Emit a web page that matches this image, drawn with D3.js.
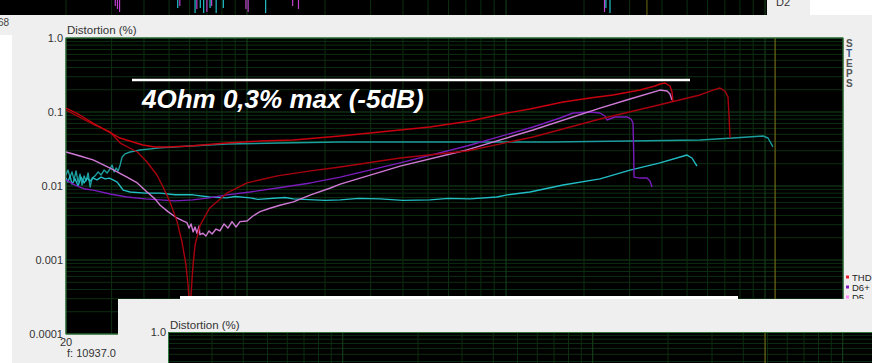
<!DOCTYPE html>
<html>
<head>
<meta charset="utf-8">
<script src="https://cdn.jsdelivr.net/npm/d3@7"></script>
<style>
  body { margin: 0; background: #efefef; }
  svg { display: block; font-family: Arial, "Liberation Sans", sans-serif; }
</style>
</head>
<body>
<div id="chart"></div>
<script>
// frequency range (Hz) and distortion range (%)
const freqDomain = [20, 20000];
const distDomain = [0.0001, 1];
const yTicks = [1, 0.1, 0.01, 0.001, 0.0001];
const yTickLabels = ['1.0', '0.1', '0.01', '0.001', '0.0001'];
const xTickLabel = '20';
const cursorHz = 10937;
const cursorLabel = 'f: 10937.0';
const annotation = '4Ohm 0,3% max (-5dB)';
const legendNames = ['THD', 'D6+', 'D5'];
const stepsLetters = ['S', 'T', 'E', 'P', 'S'];

// [Hz, %]
const seriesTHD = [[20,0.113],[22.6,0.0911],[25.4,0.071],[28.8,0.0554],[32.3,0.0445],[36.3,0.0393],
  [39.6,0.0358],[44.1,0.0337],[49.2,0.0337],[60.2,0.0347],[83.5,0.0381],[112,0.0406],[151,0.0418],
  [229,0.0474],[326,0.0537],[508,0.0627],[726,0.0756],[1009,0.0969],[1237,0.1098],[1660,0.1365],
  [2110,0.1546],[2589,0.170],[3290,0.198],[3758,0.2246],[3932,0.239],[4110,0.2464],[4296,0.2246],
  [4374,0.1863],[4413,0.1365]];
const seriesD2 = [[20,0.1064],[25.4,0.0688],[29.6,0.0537],[32.4,0.0381],[37.7,0.0288],[41.1,0.0211],
  [44.9,0.0141],[47.4,0.0097],[50.4,0.0061],[53.7,0.0033],[56.1,0.00175],[58.1,0.00086],[59.2,0.00046],
  [60.2,0.0002],[60.8,0.00034],[61.3,0.00054],[61.9,0.00086],[63.0,0.0016],[65.8,0.0029],[71.6,0.0050],
  [83.5,0.0080],[100,0.0110],[131,0.0137],[176,0.0160],[229,0.0181],[390,0.0239],[706,0.0297],
  [1271,0.0460],[2306,0.0804],[4184,0.1323],[5610,0.170],[6296,0.198],[6700,0.211],[7008,0.192],
  [7193,0.1595],[7260,0.0911],[7324,0.0445]];
const seriesD3 = [[20,0.0141],[20.36,0.0164],[20.73,0.0132],[21.1,0.0155],[21.48,0.0121],[21.87,0.016],
  [22.26,0.0113],[22.66,0.0145],[23.07,0.0103],[23.49,0.0137],[23.91,0.0117],[24.34,0.015],[24.78,0.0097],
  [25.23,0.0128],[25.91,0.0137],[26.61,0.0155],[27.33,0.0141],[28.06,0.0164],[28.82,0.015],[29.6,0.017],
  [30.13,0.0192],[30.67,0.0155],[31.23,0.0175],[31.79,0.016],[32.36,0.0192],[32.94,0.0247],[33.84,0.0272],
  [35.36,0.0288],[38.64,0.0307],[46.2,0.0327],[60.2,0.0347],[83.5,0.037],[134,0.0381],[229,0.0393],
  [608,0.0393],[1478,0.0393],[3011,0.0406],[5610,0.0418],[7520,0.0445],[9830,0.0474],[10270,0.0445],
  [10730,0.0337]];
const seriesD4 = [[20,0.0128],[20.36,0.0113],[20.73,0.0137],[21.1,0.0106],[21.67,0.0125],[22.26,0.01],
  [22.86,0.0132],[23.49,0.011],[24.12,0.0128],[24.78,0.0117],[25.45,0.0128],[26.35,0.0121],[27.33,0.0132],
  [28.33,0.0125],[29.34,0.0128],[30.4,0.0121],[31.51,0.0113],[32.36,0.01],[33.24,0.0088],[35.36,0.0083],
  [40.4,0.008],[46.2,0.008],[52.7,0.0076],[61.7,0.0076],[71.6,0.0071],[83.5,0.0069],[90,0.0072],
  [102.7,0.0069],[110,0.0066],[140,0.007],[151,0.0067],[200,0.0064],[229,0.0065],[270,0.0068],
  [326,0.0067],[400,0.0064],[508,0.0065],[600,0.0068],[726,0.0067],[922,0.0071],[1009,0.0076],
  [1237,0.0083],[1660,0.0103],[2306,0.0125],[3011,0.0164],[3932,0.0205],[4997,0.0262],[5224,0.0239],
  [5460,0.0186]];
const seriesD5 = [[20,0.0288],[22.66,0.0254],[25.45,0.0225],[29.6,0.0175],[34.4,0.0132],[37.7,0.011],
  [41.1,0.0083],[44.1,0.0067],[46.2,0.0055],[49.5,0.0045],[53.6,0.0037],[56.6,0.00337],[58.6,0.0032],
  [59.7,0.0027],[60.8,0.00307],[61.9,0.0024],[63.0,0.00279],[64.1,0.0023],[65.3,0.00288],[65.8,0.0022],
  [67.6,0.0023],[69.4,0.00211],[71.3,0.00247],[73.3,0.00225],[75.9,0.00262],[78.6,0.00247],[81.5,0.00307],
  [84.4,0.0027],[87.5,0.0033],[90.7,0.00279],[93.9,0.0033],[100,0.00337],[105.4,0.00393],[112.2,0.0045],
  [122.7,0.005],[134,0.0055],[151,0.0061],[176,0.0076],[210,0.0094],[229,0.0106],[390,0.0186],
  [706,0.0307],[1271,0.0571],[2306,0.113],[3011,0.15],[3932,0.198],[4184,0.192],[4296,0.175],[4374,0.145]];
const seriesD6 = [[20,0.0121],[21.67,0.0103],[23.68,0.0091],[25.45,0.0088],[29.6,0.0078],[34.4,0.0071],
  [40.4,0.0067],[46.2,0.0065],[52.7,0.0063],[61.7,0.0065],[71.6,0.0069],[83.5,0.0076],[102.7,0.0083],
  [131,0.0094],[176,0.011],[229,0.0132],[390,0.0205],[706,0.0347],[1271,0.0627],[1616,0.083],
  [1814,0.0969],[2110,0.1],[2306,0.0969],[2410,0.0883],[2454,0.078],[2635,0.0856],[2932,0.0856],
  [3038,0.0804],[3092,0.071],[3110,0.0307],[3120,0.0132],[3290,0.0128],[3502,0.0128],[3597,0.0117],
  [3662,0.0097]];

// fragments of the neighbouring screenshots
const topCursorHz = 3500;
const topSpikesMagenta = [31, 31.6, 32.2, 55, 64, 70, 73, 99, 101, 150, 158, 2400];
const topSpikesCyan = [54, 63, 66, 68, 72, 76, 81, 118, 2430, 2520];
const lowerCursorHz = 4890;

const W = 872, H = 363;
const svg = d3.select('#chart').append('svg').attr('width', W).attr('height', H);

const x = d3.scaleLog().domain(freqDomain).range([66, 843]);
const y = d3.scaleLog().domain(distDomain).range([334, 38]);

const isDecade = v => Math.abs(Math.log10(v) - Math.round(Math.log10(v))) < 1e-6;
const minorGrid = '#0c2e10';
const majorGrid = '#17461c';

// ---- top strip (bottom of another plot)
svg.append('rect').attr('x', 0).attr('y', 0).attr('width', 767).attr('height', 15).attr('fill', '#000');
svg.append('g').selectAll('line').data(x.ticks().filter(v => x(v) < 767)).join('line')
  .attr('x1', d => x(d)).attr('x2', d => x(d)).attr('y1', 0).attr('y2', 15)
  .attr('stroke', d => isDecade(d) ? majorGrid : minorGrid);
svg.append('line').attr('x1', x(topCursorHz)).attr('x2', x(topCursorHz)).attr('y1', 0).attr('y2', 15)
  .attr('stroke', '#6f6a16');
svg.append('g').selectAll('line').data(topSpikesMagenta).join('line')
  .attr('x1', d => x(d)).attr('x2', d => x(d)).attr('y1', 0).attr('y2', (d, i) => 6 + (i % 3) * 3)
  .attr('stroke', '#c040d0').attr('stroke-width', 1.2);
svg.append('g').selectAll('line').data(topSpikesCyan).join('line')
  .attr('x1', d => x(d)).attr('x2', d => x(d)).attr('y1', 0).attr('y2', (d, i) => 8 + (i % 2) * 5)
  .attr('stroke', '#20c0c8').attr('stroke-width', 1.2);
svg.append('text').attr('x', 776).attr('y', 6).attr('font-size', 11).attr('fill', '#333').text('D2');
svg.append('rect').attr('x', 810).attr('y', 0).attr('width', 62).attr('height', 15).attr('fill', '#fff');

// left edge fragment
svg.append('text').attr('x', -2).attr('y', 26).attr('font-size', 10).attr('fill', '#444').text('68');
svg.append('rect').attr('x', 0).attr('y', 35).attr('width', 12).attr('height', H - 35).attr('fill', '#fff');

// ---- main plot
const plot = svg.append('g');
plot.append('rect').attr('x', 66).attr('y', 38).attr('width', 777).attr('height', 296).attr('fill', '#000');

plot.append('g').selectAll('line').data(y.ticks()).join('line')
  .attr('x1', 66).attr('x2', 843).attr('y1', d => y(d)).attr('y2', d => y(d))
  .attr('stroke', d => isDecade(d) ? majorGrid : minorGrid);
plot.append('g').selectAll('line').data(x.ticks()).join('line')
  .attr('x1', d => x(d)).attr('x2', d => x(d)).attr('y1', 38).attr('y2', 334)
  .attr('stroke', d => isDecade(d) ? majorGrid : minorGrid);

plot.append('line').attr('x1', x(cursorHz)).attr('x2', x(cursorHz)).attr('y1', 38).attr('y2', 334)
  .attr('stroke', '#6f6a16').attr('stroke-width', 1.2);

plot.append('rect').attr('x', 66).attr('y', 38).attr('width', 777).attr('height', 296)
  .attr('fill', 'none').attr('stroke', '#2f7a3c').attr('stroke-width', 1);

svg.append('clipPath').attr('id', 'clip').append('rect')
  .attr('x', 66).attr('y', 38).attr('width', 777).attr('height', 296);

const line = d3.line().x(d => x(d[0])).y(d => y(d[1]));
const series = [
  { data: seriesD3, color: '#1c9c9c' },
  { data: seriesD4, color: '#22bcc4' },
  { data: seriesD6, color: '#7a1cbc' },
  { data: seriesD5, color: '#d07ad6' },
  { data: seriesD2, color: '#a8000e' },
  { data: seriesTHD, color: '#c8000f' }
];
plot.append('g').attr('clip-path', 'url(#clip)').selectAll('path').data(series).join('path')
  .attr('d', d => line(d.data)).attr('fill', 'none')
  .attr('stroke', d => d.color).attr('stroke-width', 1.4).attr('stroke-linejoin', 'round');

// annotation
plot.append('line').attr('x1', 132).attr('x2', 690).attr('y1', 80).attr('y2', 80)
  .attr('stroke', '#fff').attr('stroke-width', 2.5);
plot.append('text').attr('x', 142).attr('y', 108).attr('fill', '#fff')
  .attr('font-size', 26).attr('font-weight', 'bold').attr('font-style', 'italic').text(annotation);

// axis texts
svg.append('text').attr('x', 67).attr('y', 34).attr('font-size', 11.5).attr('fill', '#333').text('Distortion (%)');
svg.append('g').selectAll('text').data(yTicks).join('text')
  .attr('x', 63).attr('y', d => y(d)).attr('dy', '0.35em').attr('text-anchor', 'end')
  .attr('font-size', 11).attr('fill', '#333').text((d, i) => yTickLabels[i]);
svg.append('text').attr('x', x(freqDomain[0])).attr('y', 346).attr('text-anchor', 'middle')
  .attr('font-size', 11).attr('fill', '#333').text(xTickLabel);
svg.append('text').attr('x', 67).attr('y', 357).attr('font-size', 11).attr('fill', '#333').text(cursorLabel);

svg.append('g').selectAll('text').data(stepsLetters).join('text')
  .attr('x', 846).attr('y', (d, i) => 47 + i * 10).attr('font-size', 10).attr('font-weight', 'bold')
  .attr('fill', (d, i) => i === 1 ? '#3c5a8c' : '#555').text(d => d);

const legendColors = ['#e8202a', '#7a1cbc', '#ff8cff'];
const leg = svg.append('g').selectAll('g').data(legendNames).join('g')
  .attr('transform', (d, i) => `translate(846,${277 + i * 10})`);
leg.append('rect').attr('x', 0).attr('y', -1.5).attr('width', 3).attr('height', 3).attr('fill', (d, i) => legendColors[i]);
leg.append('text').attr('x', 6).attr('y', 3.5).attr('font-size', 9.5).attr('fill', '#222').text(d => d);

// ---- overlapping lower screenshot
svg.append('rect').attr('x', 118).attr('y', 299).attr('width', W - 118).attr('height', H - 299).attr('fill', '#efefef');
svg.append('rect').attr('x', 180).attr('y', 296).attr('width', 558).attr('height', 3).attr('fill', '#fff');

const xLow = d3.scaleLog().domain(freqDomain).range([168, 918]);
const yLow = d3.scaleLog().domain(distDomain).range([628, 332]);
svg.append('clipPath').attr('id', 'clipLow').append('rect')
  .attr('x', 168).attr('y', 332).attr('width', W - 168).attr('height', H - 332);
const low = svg.append('g').attr('clip-path', 'url(#clipLow)');
low.append('rect').attr('x', 168).attr('y', 332).attr('width', W - 168).attr('height', H - 332).attr('fill', '#000');
low.append('g').selectAll('line').data(yLow.ticks()).join('line')
  .attr('x1', 168).attr('x2', W).attr('y1', d => yLow(d)).attr('y2', d => yLow(d))
  .attr('stroke', d => isDecade(d) ? majorGrid : minorGrid);
low.append('g').selectAll('line').data(xLow.ticks()).join('line')
  .attr('x1', d => xLow(d)).attr('x2', d => xLow(d)).attr('y1', 332).attr('y2', H)
  .attr('stroke', d => isDecade(d) ? majorGrid : minorGrid);
low.append('line').attr('x1', xLow(lowerCursorHz)).attr('x2', xLow(lowerCursorHz)).attr('y1', 332).attr('y2', H)
  .attr('stroke', '#6f6a16').attr('stroke-width', 1.2);
svg.append('path').attr('d', `M168.5,${H}V332.5H${W}`).attr('fill', 'none').attr('stroke', '#2f7a3c');
svg.append('text').attr('x', 170).attr('y', 329).attr('font-size', 11.5).attr('fill', '#333').text('Distortion (%)');
svg.append('text').attr('x', 166).attr('y', 332).attr('dy', '0.35em').attr('text-anchor', 'end')
  .attr('font-size', 11).attr('fill', '#333').text(yTickLabels[0]);
</script>
</body>
</html>
